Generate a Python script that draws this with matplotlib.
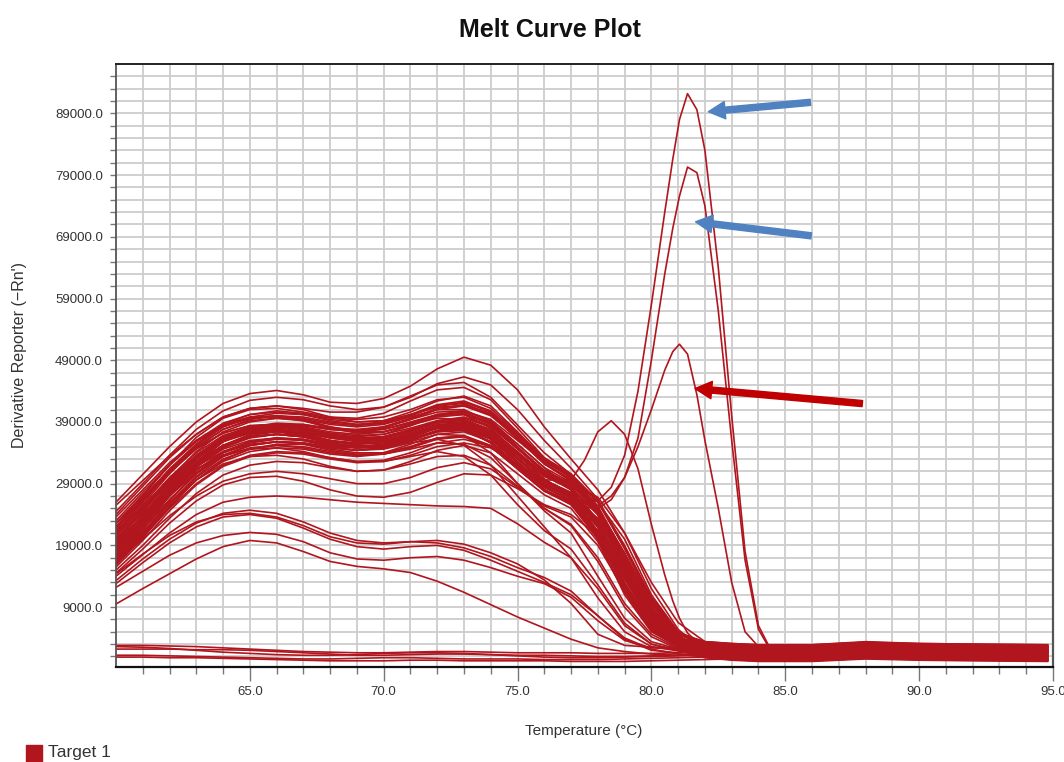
import numpy as np
import matplotlib
matplotlib.use("Agg")
import matplotlib.pyplot as plt
from matplotlib.ticker import FixedLocator, FormatStrFormatter
from matplotlib.patches import Rectangle

# derivative values below in thousands of -Rn'
temps = [60, 61, 62, 63, 64, 65, 66, 67, 68, 69, 70, 71, 72, 73, 74, 75, 76,
         77, 78, 79, 80, 81, 82, 83, 84, 86, 88, 90, 92, 94.8]

# the three tall peaks and the 78.5 bump were read on a finer grid
temps_peak = [60, 61, 62, 63, 64, 65, 66, 67, 68, 69, 70, 71, 72, 73, 74, 75, 76,
              77.0, 77.5, 78.0, 78.5, 79.0, 79.5, 80.0, 80.5, 80.8, 81.05, 81.35,
              81.7, 82.0, 82.5, 83.0, 83.5, 84.0, 84.4, 85.0, 86, 88, 90, 92, 94.8]

band_upper = [
    [26.0, 30.5, 35.0, 39.0, 42.0, 43.6, 44.1, 43.4, 42.2, 42.0, 42.8, 44.8, 47.6, 49.5, 48.2, 44.2, 38.2, 33.0, 28.0, 21.0, 13.0, 6.5, 3.4, 2.9, 2.6, 2.6, 3.1, 2.8, 2.7, 2.6],
    [24.5, 29.0, 33.6, 37.8, 40.8, 42.5, 43.0, 42.6, 41.6, 41.0, 41.4, 43.0, 45.2, 46.3, 45.0, 41.0, 36.0, 31.5, 26.5, 18.5, 10.5, 5.0, 2.9, 2.5, 2.3, 2.2, 2.7, 2.4, 2.3, 2.2],
    [25.5, 29.5, 33.5, 37.0, 39.8, 41.2, 41.6, 41.2, 40.6, 40.6, 41.4, 43.2, 45.0, 45.4, 43.0, 38.5, 34.0, 30.5, 25.0, 16.5, 8.5, 4.0, 2.3, 1.9, 1.7, 1.6, 2.1, 1.8, 1.7, 1.6],
    [22.0, 27.0, 32.0, 36.5, 39.6, 41.0, 41.2, 40.6, 39.8, 39.6, 40.4, 42.4, 44.2, 44.6, 42.6, 38.0, 33.2, 29.8, 24.0, 15.0, 7.5, 3.6, 1.5, 1.1, 0.9, 0.8, 1.3, 1.0, 0.9, 0.8],
]

band_core = [
    [21.0, 26.0, 31.0, 35.2, 38.2, 39.8, 40.4, 40.2, 39.4, 39.0, 39.2, 40.2, 41.4, 41.6, 40.0, 36.4, 32.2, 29.4, 24.6, 16.0, 8.0, 3.8, 3.4, 3.1, 2.9, 2.9, 3.3, 3.1, 3.0, 2.9],
    [19.5, 24.5, 29.8, 34.2, 37.4, 39.0, 39.6, 39.4, 38.6, 38.2, 38.6, 39.8, 41.0, 41.0, 39.0, 35.0, 31.0, 28.6, 23.0, 14.0, 6.8, 3.3, 1.8, 1.4, 1.2, 1.2, 1.6, 1.4, 1.3, 1.2],
    [18.0, 23.0, 28.4, 33.0, 36.4, 38.2, 38.8, 38.6, 37.8, 37.4, 37.8, 39.0, 40.2, 40.2, 38.0, 34.0, 30.4, 28.0, 22.0, 12.5, 5.8, 2.9, 1.1, 0.7, 0.5, 0.5, 0.9, 0.7, 0.6, 0.5],
    [23.0, 27.6, 32.0, 35.8, 38.4, 39.6, 39.8, 39.2, 38.0, 37.2, 37.4, 38.6, 40.0, 40.4, 38.8, 35.4, 31.6, 28.0, 21.0, 12.0, 5.5, 2.8, 2.5, 2.2, 2.0, 2.0, 2.4, 2.2, 2.1, 2.0],
    [17.0, 22.0, 27.4, 32.2, 35.8, 37.8, 38.6, 38.6, 38.0, 37.8, 38.2, 39.4, 40.6, 40.8, 39.4, 36.0, 32.6, 30.0, 25.0, 17.0, 9.0, 4.2, 2.0, 1.6, 1.4, 1.4, 1.8, 1.6, 1.5, 1.4],
    [20.5, 25.2, 30.0, 34.0, 36.8, 38.2, 38.6, 38.2, 37.4, 37.0, 37.4, 38.6, 39.6, 39.4, 37.0, 33.0, 29.6, 27.4, 22.6, 14.5, 7.0, 3.4, 3.0, 2.6, 2.4, 2.4, 2.9, 2.6, 2.5, 2.4],
    [16.5, 21.5, 27.0, 31.8, 35.2, 37.0, 37.6, 37.4, 36.6, 36.2, 36.6, 37.8, 39.0, 39.2, 37.6, 34.0, 30.4, 28.2, 24.0, 16.5, 8.5, 4.0, 1.5, 1.1, 0.9, 0.9, 1.3, 1.1, 1.0, 0.9],
    [22.5, 26.8, 31.2, 34.8, 37.2, 38.4, 38.6, 38.0, 37.0, 36.4, 36.6, 37.6, 38.8, 39.0, 37.4, 33.6, 29.8, 27.0, 20.0, 11.0, 5.0, 2.6, 2.3, 2.0, 1.8, 1.8, 2.2, 2.0, 1.9, 1.8],
    [19.0, 24.0, 29.0, 33.2, 36.2, 37.8, 38.4, 38.4, 37.8, 37.6, 38.2, 39.6, 41.2, 41.8, 40.4, 36.8, 32.8, 30.0, 26.0, 18.5, 10.0, 4.6, 3.3, 2.9, 2.7, 2.7, 3.2, 2.9, 2.8, 2.7],
    [18.5, 23.4, 28.6, 33.0, 36.0, 37.4, 37.8, 37.4, 36.4, 35.8, 36.0, 37.0, 38.2, 38.4, 36.6, 32.6, 28.8, 26.6, 21.4, 13.0, 6.2, 3.0, 0.9, 0.5, 0.3, 0.3, 0.7, 0.5, 0.4, 0.3],
    [21.5, 26.4, 31.2, 35.4, 38.6, 40.2, 40.8, 40.4, 39.6, 39.4, 39.8, 41.0, 42.6, 43.0, 41.2, 37.2, 33.0, 30.2, 25.4, 17.5, 9.4, 4.4, 1.6, 1.2, 1.0, 1.0, 1.4, 1.2, 1.1, 1.0],
    [17.5, 22.6, 28.0, 32.6, 35.8, 37.2, 37.6, 37.0, 36.0, 35.4, 35.6, 36.8, 38.0, 38.0, 35.6, 31.4, 27.8, 25.8, 20.4, 12.0, 5.6, 2.8, 2.7, 2.6, 2.5, 2.5, 3.0, 2.7, 2.6, 2.5],
]

band_more = [
    [19.0, 23.8, 28.8, 33.0, 36.0, 37.6, 38.2, 38.0, 37.2, 36.8, 37.0, 38.0, 39.2, 39.6, 38.2, 34.6, 31.0, 28.8, 24.4, 16.8, 8.8, 4.0, 1.2, 0.8, 0.6, 0.6, 1.0, 0.8, 0.7, 0.6],
    [22.0, 26.6, 31.4, 35.4, 38.2, 39.6, 40.0, 39.6, 38.8, 38.4, 38.8, 40.0, 41.6, 42.2, 40.6, 36.6, 32.4, 29.6, 24.0, 15.4, 7.6, 3.6, 2.6, 2.3, 2.1, 2.1, 2.6, 2.3, 2.2, 2.1],
    [17.8, 22.4, 27.6, 32.0, 35.2, 36.8, 37.4, 37.2, 36.4, 36.0, 36.4, 37.6, 39.2, 39.8, 38.4, 34.8, 31.2, 29.0, 24.8, 17.6, 9.6, 4.4, 2.1, 1.7, 1.5, 1.5, 1.9, 1.7, 1.6, 1.5],
    [20.8, 25.6, 30.6, 34.8, 37.8, 39.4, 40.0, 39.8, 39.0, 38.6, 39.0, 40.2, 41.8, 42.4, 40.8, 37.0, 33.2, 30.6, 26.2, 18.6, 10.2, 4.8, 3.4, 3.1, 2.9, 2.9, 3.4, 3.1, 3.0, 2.9],
    [16.2, 21.0, 26.2, 30.8, 34.0, 35.8, 36.4, 36.2, 35.4, 34.8, 35.0, 36.0, 37.4, 37.8, 36.2, 32.4, 28.8, 26.8, 22.0, 14.0, 6.6, 3.2, 1.0, 0.6, 0.4, 0.4, 0.8, 0.6, 0.5, 0.4],
    [23.6, 28.0, 32.4, 36.0, 38.6, 39.8, 40.0, 39.4, 38.2, 37.4, 37.4, 38.4, 39.8, 40.2, 38.6, 34.8, 30.8, 28.2, 22.4, 13.6, 6.4, 3.1, 2.4, 2.1, 1.9, 1.9, 2.3, 2.1, 2.0, 1.9],
    [18.8, 23.2, 28.0, 32.2, 35.2, 36.6, 37.0, 36.6, 35.6, 35.0, 35.2, 36.2, 37.6, 38.0, 36.6, 33.0, 29.6, 27.6, 23.2, 15.6, 7.8, 3.6, 1.7, 1.3, 1.1, 1.1, 1.5, 1.3, 1.2, 1.1],
    [21.2, 26.0, 31.0, 35.0, 37.8, 39.2, 39.6, 39.2, 38.2, 37.6, 37.8, 38.8, 40.2, 40.6, 38.8, 34.8, 30.8, 28.0, 22.8, 14.6, 7.2, 3.5, 3.0, 2.7, 2.5, 2.5, 3.0, 2.7, 2.6, 2.5],
    [15.8, 20.2, 25.2, 29.6, 32.8, 34.6, 35.4, 35.4, 34.8, 34.4, 34.8, 36.0, 37.6, 38.2, 37.0, 33.6, 30.2, 28.2, 24.2, 17.0, 9.0, 4.2, 1.4, 1.0, 0.8, 0.8, 1.2, 1.0, 0.9, 0.8],
    [20.2, 24.6, 29.2, 33.2, 36.0, 37.4, 37.8, 37.2, 36.0, 35.2, 35.2, 36.2, 37.6, 37.8, 35.8, 31.8, 28.0, 25.8, 20.8, 12.6, 6.0, 3.0, 2.2, 1.9, 1.7, 1.7, 2.1, 1.9, 1.8, 1.7],
    [18.2, 23.0, 28.2, 32.6, 35.8, 37.6, 38.4, 38.4, 37.8, 37.6, 38.0, 39.4, 41.0, 41.6, 40.2, 36.6, 32.8, 30.4, 26.2, 19.0, 10.6, 5.0, 2.8, 2.5, 2.3, 2.3, 2.8, 2.5, 2.4, 2.3],
    [21.8, 26.2, 30.8, 34.6, 37.2, 38.4, 38.6, 38.0, 36.8, 36.0, 36.0, 36.8, 38.0, 38.2, 36.4, 32.4, 28.6, 26.2, 21.0, 12.8, 6.0, 2.8, 0.9, 0.5, 0.3, 0.3, 0.7, 0.5, 0.4, 0.3],
    [17.2, 21.6, 26.4, 30.6, 33.6, 35.2, 35.8, 35.6, 34.8, 34.4, 34.8, 36.0, 37.6, 38.2, 36.8, 33.2, 29.6, 27.4, 22.8, 15.0, 7.4, 3.4, 1.9, 1.5, 1.3, 1.3, 1.7, 1.5, 1.4, 1.3],
    [24.0, 28.6, 33.2, 37.0, 39.8, 41.2, 41.6, 41.0, 39.8, 39.0, 39.2, 40.6, 42.4, 43.2, 41.6, 37.4, 33.0, 30.2, 24.6, 15.8, 7.8, 3.8, 3.2, 2.9, 2.7, 2.7, 3.2, 2.9, 2.8, 2.7],
    [16.8, 21.0, 25.8, 30.0, 33.0, 34.6, 35.2, 35.0, 34.2, 33.6, 33.8, 34.8, 36.2, 36.6, 35.0, 31.4, 27.8, 25.6, 20.6, 12.4, 5.8, 2.8, 1.5, 1.2, 1.0, 1.0, 1.4, 1.2, 1.1, 1.0],
    [19.8, 24.4, 29.4, 33.6, 36.6, 38.0, 38.4, 38.0, 37.0, 36.4, 36.6, 37.6, 39.0, 39.4, 37.8, 34.2, 30.6, 28.4, 24.2, 16.6, 8.6, 4.0, 2.5, 2.2, 2.0, 2.0, 2.5, 2.2, 2.1, 2.0],
    [18.2, 22.6, 27.2, 31.2, 34.0, 35.4, 35.8, 35.4, 34.4, 33.8, 33.8, 34.6, 35.6, 35.4, 33.2, 29.0, 25.0, 22.2, 16.4, 9.0, 4.2, 2.2, 1.0, 0.7, 0.5, 0.5, 0.9, 0.7, 0.6, 0.5],
    [20.6, 25.0, 29.6, 33.6, 36.4, 37.8, 38.2, 37.8, 37.0, 36.6, 37.0, 38.4, 40.2, 40.8, 39.2, 35.4, 31.6, 29.2, 25.0, 17.8, 9.8, 4.6, 2.7, 2.4, 2.2, 2.2, 2.7, 2.4, 2.3, 2.2],
    [16.4, 20.8, 25.8, 30.2, 33.4, 35.2, 35.8, 35.6, 34.6, 34.0, 34.0, 35.0, 36.4, 36.8, 35.2, 31.6, 28.0, 26.0, 21.4, 13.6, 6.6, 3.2, 1.9, 1.6, 1.4, 1.4, 1.8, 1.6, 1.5, 1.4],
    [22.6, 27.2, 32.0, 36.0, 38.8, 40.2, 40.6, 40.2, 39.2, 38.6, 38.8, 40.0, 41.6, 42.0, 40.2, 36.2, 32.2, 29.6, 24.6, 16.6, 8.4, 4.0, 3.1, 2.8, 2.6, 2.6, 3.1, 2.8, 2.7, 2.6],
    [19.4, 23.8, 28.4, 32.4, 35.2, 36.6, 37.0, 36.6, 35.6, 35.0, 35.2, 36.4, 38.0, 38.6, 37.2, 33.6, 30.2, 28.2, 24.0, 16.2, 8.2, 3.8, 1.5, 1.1, 0.9, 0.9, 1.3, 1.1, 1.0, 0.9],
    [17.6, 22.2, 27.2, 31.6, 34.8, 36.4, 37.0, 36.8, 36.0, 35.6, 35.8, 36.8, 38.2, 38.6, 37.0, 33.2, 29.4, 27.2, 22.4, 14.2, 6.8, 3.2, 2.3, 2.0, 1.8, 1.8, 2.2, 2.0, 1.9, 1.8],
]

band_lower = [
    [18.0, 22.4, 27.0, 30.8, 33.4, 34.8, 35.2, 34.8, 34.0, 33.6, 34.0, 35.4, 37.0, 37.4, 35.8, 32.0, 28.4, 26.4, 22.0, 14.4, 7.2, 3.4, 2.3, 1.9, 1.7, 1.7, 2.1, 1.9, 1.8, 1.7],
    [16.0, 20.6, 25.4, 29.6, 32.6, 34.2, 34.8, 34.6, 33.8, 33.4, 33.8, 35.0, 36.4, 36.6, 35.0, 31.4, 28.0, 26.0, 21.0, 12.8, 6.0, 3.0, 1.2, 0.8, 0.6, 0.6, 1.0, 0.8, 0.7, 0.6],
    [19.5, 23.8, 28.0, 31.4, 33.6, 34.6, 34.8, 34.2, 33.2, 32.6, 32.8, 34.0, 35.6, 36.2, 35.0, 31.6, 28.0, 25.6, 20.0, 11.5, 5.4, 2.7, 2.6, 2.4, 2.2, 2.2, 2.7, 2.4, 2.3, 2.2],
    [15.5, 19.8, 24.6, 28.8, 31.8, 33.4, 34.0, 33.8, 33.0, 32.4, 32.6, 33.6, 35.0, 35.6, 34.8, 32.0, 28.8, 27.0, 23.4, 16.0, 8.2, 3.8, 1.9, 1.5, 1.3, 1.3, 1.7, 1.5, 1.4, 1.3],
    [17.0, 21.2, 25.8, 29.6, 32.2, 33.4, 33.6, 33.0, 31.8, 31.0, 31.2, 32.6, 34.4, 35.2, 34.0, 30.6, 27.2, 25.0, 19.6, 11.4, 5.2, 2.6, 1.0, 0.6, 0.4, 0.4, 0.8, 0.6, 0.5, 0.4],
    [20.0, 24.2, 28.4, 31.8, 34.2, 35.6, 36.2, 36.0, 35.2, 34.8, 35.2, 36.6, 38.4, 39.0, 37.2, 33.0, 29.0, 26.8, 22.6, 15.0, 7.6, 3.6, 3.3, 3.0, 2.8, 2.8, 3.3, 3.0, 2.9, 2.8],
    [16.5, 20.0, 23.8, 27.0, 29.4, 30.6, 31.0, 30.6, 29.8, 29.0, 29.0, 30.0, 31.6, 32.4, 31.4, 28.4, 25.4, 23.6, 19.0, 11.6, 5.6, 2.8, 2.1, 1.7, 1.5, 1.5, 1.9, 1.7, 1.6, 1.5],
    [14.5, 18.4, 22.6, 26.2, 28.8, 30.0, 30.2, 29.4, 28.0, 27.0, 26.8, 27.6, 29.2, 30.6, 30.4, 28.2, 25.6, 24.0, 20.6, 13.6, 6.8, 3.2, 1.6, 1.2, 1.0, 1.0, 1.4, 1.2, 1.1, 1.0],
    [15.0, 19.0, 23.4, 27.4, 30.4, 32.0, 32.6, 32.4, 31.6, 31.0, 31.2, 32.2, 33.4, 33.6, 32.0, 28.6, 25.0, 22.4, 17.0, 9.6, 4.6, 2.4, 2.6, 2.5, 2.3, 2.3, 2.8, 2.5, 2.4, 2.3],
]

band_early = [
    [18.5, 23.0, 27.8, 31.8, 34.6, 36.0, 36.4, 36.0, 35.0, 34.4, 34.6, 35.6, 36.2, 35.2, 32.0, 27.0, 22.0, 17.0, 10.5, 5.0, 2.6, 1.9, 1.3, 0.9, 0.7, 0.7, 1.1, 0.9, 0.8, 0.7],
    [21.0, 25.4, 29.8, 33.4, 36.0, 37.2, 37.4, 36.8, 35.6, 34.8, 34.8, 35.8, 37.0, 36.8, 34.0, 29.0, 24.6, 21.0, 14.0, 7.2, 3.4, 2.2, 2.1, 2.0, 1.9, 1.9, 2.3, 2.1, 2.0, 1.9],
    [16.0, 20.4, 25.0, 29.0, 32.0, 33.6, 34.2, 34.0, 33.2, 32.6, 32.6, 33.4, 34.2, 33.4, 30.4, 25.6, 21.4, 18.4, 12.6, 6.4, 3.0, 2.0, 0.8, 0.4, 0.2, 0.2, 0.6, 0.4, 0.3, 0.2],
]

band_late = [
    [20.0, 24.8, 29.6, 33.6, 36.4, 37.8, 38.2, 37.8, 36.8, 36.2, 36.4, 37.4, 38.6, 38.8, 37.2, 33.8, 30.4, 28.6, 26.0, 20.0, 11.0, 5.0, 3.2, 2.9, 2.6, 2.6, 3.1, 2.8, 2.7, 2.6],
    [17.5, 22.0, 27.0, 31.2, 34.2, 35.8, 36.4, 36.2, 35.4, 35.0, 35.4, 36.6, 38.0, 38.4, 37.0, 33.8, 30.6, 29.0, 26.8, 21.0, 12.0, 5.4, 1.7, 1.3, 1.1, 1.1, 1.5, 1.3, 1.2, 1.1],
]

low_wells = [
    [14.0, 17.5, 21.0, 24.0, 26.0, 26.8, 27.0, 26.8, 26.4, 26.0, 25.8, 25.6, 25.4, 25.3, 25.0, 22.5, 19.5, 17.0, 12.0, 6.0, 3.0, 2.0, 1.8, 1.7, 1.6, 1.6, 2.0, 1.8, 1.7, 1.6],
    [9.5, 12.0, 14.4, 16.8, 18.8, 19.8, 19.4, 18.0, 16.4, 15.6, 15.2, 14.6, 13.2, 11.4, 9.4, 7.4, 5.6, 3.8, 2.4, 1.8, 1.4, 1.2, 1.1, 1.0, 0.9, 0.9, 1.3, 1.1, 1.0, 0.9],
    [12.2, 14.8, 17.4, 19.4, 20.6, 21.1, 20.8, 19.6, 17.8, 16.8, 16.6, 17.0, 17.2, 16.6, 15.4, 14.0, 12.8, 10.6, 6.8, 3.6, 2.4, 2.2, 2.1, 2.1, 2.0, 2.0, 2.4, 2.2, 2.1, 2.0],
    [13.3, 16.8, 20.0, 22.6, 24.2, 24.7, 24.2, 22.8, 21.0, 19.8, 19.4, 19.6, 19.4, 18.6, 17.2, 15.4, 13.8, 11.6, 7.6, 3.8, 2.0, 1.6, 1.5, 1.4, 1.3, 1.3, 1.7, 1.5, 1.4, 1.3],
    [14.4, 17.6, 20.6, 22.8, 24.0, 24.2, 23.6, 22.2, 20.4, 19.4, 19.2, 19.6, 19.8, 19.2, 17.8, 16.0, 13.4, 9.6, 4.6, 2.8, 2.5, 2.4, 2.4, 2.4, 2.4, 2.4, 2.8, 2.6, 2.5, 2.4],
    [12.8, 16.2, 19.4, 22.0, 23.6, 24.0, 23.4, 21.8, 20.0, 18.8, 18.4, 18.8, 19.0, 18.2, 16.6, 14.8, 13.0, 11.0, 7.6, 4.0, 2.2, 1.4, 0.9, 0.7, 0.5, 0.5, 0.9, 0.7, 0.6, 0.5],
]

no_template = [
    [2.8, 2.8, 2.7, 2.6, 2.4, 2.2, 2.0, 1.8, 1.7, 1.6, 1.6, 1.7, 1.8, 1.8, 1.7, 1.6, 1.6, 1.6, 1.5, 1.5, 1.5, 1.6, 1.8, 2.0, 2.2, 2.6, 3.2, 2.8, 2.6, 2.5],
    [2.2, 2.2, 2.2, 2.1, 2.1, 2.0, 1.8, 1.6, 1.4, 1.2, 1.2, 1.3, 1.4, 1.4, 1.3, 1.2, 1.2, 1.1, 1.0, 1.0, 1.1, 1.2, 1.4, 1.6, 1.8, 2.2, 2.8, 2.4, 2.2, 2.1],
    [1.2, 1.2, 1.1, 1.0, 0.9, 0.8, 0.7, 0.6, 0.6, 0.7, 0.8, 0.8, 0.7, 0.6, 0.6, 0.6, 0.5, 0.5, 0.5, 0.6, 0.7, 0.8, 0.9, 1.0, 1.1, 1.2, 1.6, 1.3, 1.1, 1.0],
    [0.9, 0.9, 0.8, 0.8, 0.7, 0.6, 0.5, 0.4, 0.3, 0.3, 0.3, 0.4, 0.4, 0.3, 0.3, 0.3, 0.3, 0.2, 0.2, 0.2, 0.3, 0.4, 0.5, 0.6, 0.7, 0.8, 1.0, 0.8, 0.6, 0.5],
    [2.6, 2.5, 2.3, 2.0, 1.7, 1.5, 1.3, 1.2, 1.2, 1.3, 1.5, 1.6, 1.6, 1.5, 1.3, 1.1, 0.9, 0.8, 0.8, 0.9, 1.0, 1.1, 1.3, 1.5, 1.7, 2.0, 2.4, 2.1, 1.9, 1.8],
]

bump_well = [17.0, 21.6, 26.4, 30.6, 33.6, 35.2, 35.8, 35.6, 35.0, 34.8, 35.4, 36.8, 38.0, 37.8, 35.6, 32.0, 29.6,
             29.6, 32.8, 37.4, 39.2, 37.0, 31.4, 22.4, 14.2, 10.0, 7.2, 4.8, 3.4, 2.8, 2.4, 2.2, 2.1, 2.0, 2.0, 1.9,
             1.9, 2.6, 2.2, 2.0, 1.8]
peak_high = [20.0, 24.6, 29.4, 33.4, 36.2, 37.6, 38.0, 37.6, 36.6, 36.0, 36.2, 37.2, 38.4, 38.6, 36.8, 33.0, 29.2,
             27.0, 26.0, 26.2, 28.4, 33.6, 44.0, 58.0, 73.0, 81.6, 88.0, 92.2, 89.6, 83.0, 64.0, 40.0, 18.0, 6.0, 2.6, 2.2,
             2.1, 2.8, 2.4, 2.2, 2.0]
peak_mid = [18.0, 22.8, 27.8, 32.0, 35.0, 36.6, 37.0, 36.6, 35.6, 35.0, 35.2, 36.2, 37.4, 37.6, 35.8, 32.0, 28.4,
            26.2, 25.2, 25.0, 26.4, 30.0, 36.4, 49.0, 63.0, 70.4, 75.6, 80.3, 79.4, 74.0, 57.0, 36.0, 16.6, 5.4, 2.4, 2.0,
            1.9, 2.6, 2.2, 2.0, 1.8]
peak_low = [19.0, 23.6, 28.4, 32.4, 35.2, 36.6, 37.0, 36.6, 35.8, 35.4, 35.8, 37.0, 38.2, 38.2, 36.2, 32.4, 28.8,
            26.8, 25.8, 25.4, 27.0, 30.0, 35.0, 41.0, 47.4, 50.4, 51.6, 50.0, 43.4, 36.0, 25.0, 13.0, 5.0, 2.6, 2.2, 2.0,
            1.9, 2.5, 2.1, 1.9, 1.7]

# arrows drawn on the screenshot, (temperature, value) of tail and head
arrow_tails = [(85.94, 90790), (85.97, 69160), (87.88, 41980)]
arrow_heads = [(82.13, 89270), (81.65, 71430), (81.63, 44410)]
arrow_colors = ["#5082c2", "#5082c2", "#c00000"]

y_major = [9000, 19000, 29000, 39000, 49000, 59000, 69000, 79000, 89000]
x_major = [65, 70, 75, 80, 85, 90, 95]

line_color = "#b1151d"

plt.rcParams['font.family'] = ['Liberation Sans', 'DejaVu Sans']

fig = plt.figure(figsize=(10.64, 7.62), dpi=100)
ax = fig.add_axes([0.109, 0.1247, 0.8806, 0.7913])

groups = [band_upper, band_core, band_more, band_lower, band_early, band_late, low_wells, no_template]
for group in groups:
    for row in group:
        ax.plot(temps, np.array(row) * 1000, color=line_color, lw=1.2, solid_joinstyle='round')
for row in [bump_well, peak_high, peak_mid, peak_low]:
    ax.plot(temps_peak, np.array(row) * 1000, color=line_color, lw=1.2, solid_joinstyle='round')

for tail, head, c in zip(arrow_tails, arrow_heads, arrow_colors):
    ax.annotate('', xy=head, xytext=tail,
                arrowprops=dict(facecolor=c, edgecolor=c, width=4.4, headwidth=12.5,
                                headlength=12, shrink=0), annotation_clip=False)

ax.set_xlim(60, 95)
ax.set_ylim(-700, 97000)

ax.xaxis.set_major_locator(FixedLocator(x_major))
ax.xaxis.set_minor_locator(FixedLocator(np.arange(61, 95, 1)))
ax.xaxis.set_major_formatter(FormatStrFormatter('%.1f'))
ax.yaxis.set_major_locator(FixedLocator(y_major))
ax.yaxis.set_minor_locator(FixedLocator(np.arange(1000, 97000, 2000)))
ax.yaxis.set_major_formatter(FormatStrFormatter('%.1f'))

ax.grid(which='both', color='#cdcdcd', lw=1.3)
ax.set_axisbelow(True)

ax.tick_params(axis='y', which='both', direction='out', length=4.5, width=1,
               color='#777777', labelsize=9.5, labelcolor='#333333', pad=5)
ax.tick_params(axis='x', which='major', direction='out', length=10, width=1,
               color='#777777', labelsize=9.5, labelcolor='#333333', pad=4)
ax.tick_params(axis='x', which='minor', direction='out', length=5, width=1, color='#777777')

for side, lw, c in [('left', 1.3, '#555555'), ('bottom', 1.6, '#111111'),
                    ('top', 1.4, '#222222'), ('right', 1.6, '#555555')]:
    ax.spines[side].set_linewidth(lw)
    ax.spines[side].set_color(c)

fig.text(550 / 1064, 1 - 30 / 762, 'Melt Curve Plot', ha='center', va='center',
         fontsize=18, fontweight='bold', color='#111111')
fig.text(20 / 1064, 1 - 355 / 762, "Derivative Reporter (\u2212Rn')", rotation=90,
         ha='center', va='center', fontsize=11.5, color='#333333')
fig.text(584 / 1064, 1 - 731 / 762, 'Temperature (\u00b0C)', ha='center', va='center',
         fontsize=11, color='#333333')

# legend swatch at the bottom left
fig.patches.append(Rectangle((26 / 1064, 0.0), 16 / 1064, 17 / 762,
                             transform=fig.transFigure, color=line_color))
fig.text(48 / 1064, 1 - 752 / 762, 'Target 1', ha='left', va='center',
         fontsize=12.5, color='#333333')

fig.savefig('out.png', dpi=100)
